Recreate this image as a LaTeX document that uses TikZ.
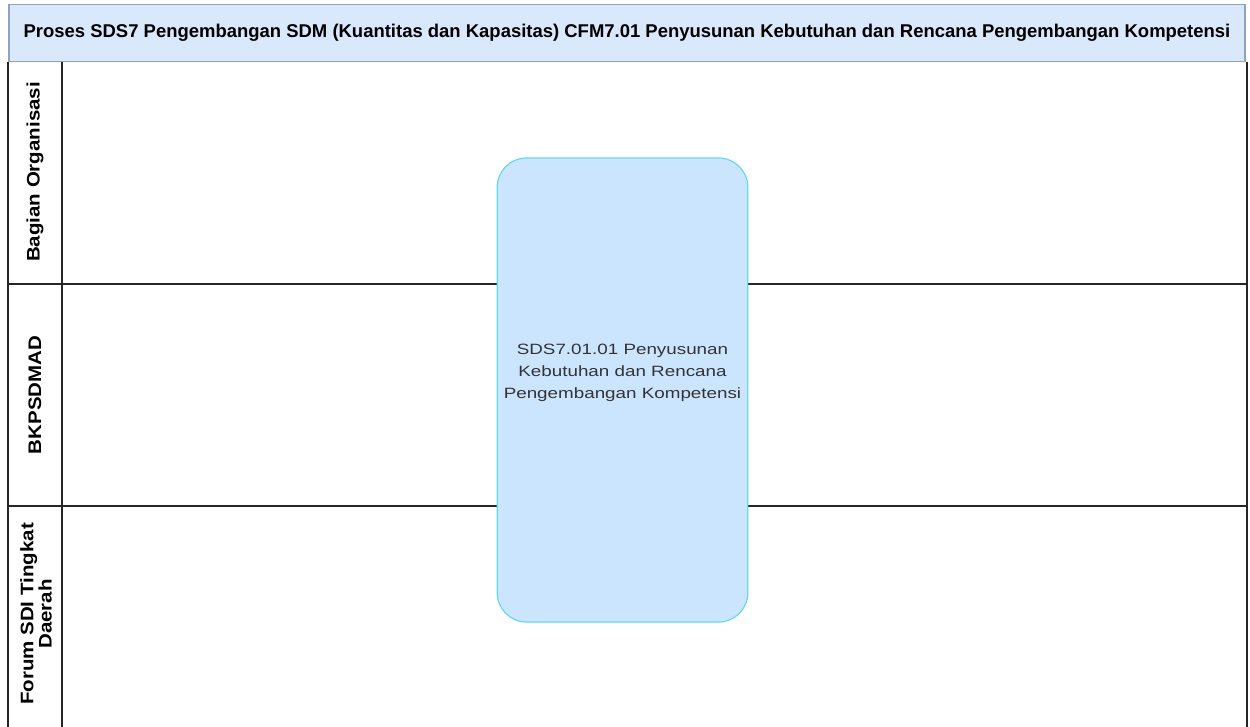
\documentclass[tikz,border=0pt]{standalone}
\usepackage{fontspec}
\setmainfont{Liberation Sans}
\newfontfamily\widesans[FakeStretch=1.26]{Liberation Sans}
\newfontfamily\laneface[FakeStretch=1.13]{Liberation Sans}
\usetikzlibrary{positioning}

\definecolor{titlefill}{HTML}{DAE8FC}
\definecolor{titleline}{HTML}{8FA3BF}
\definecolor{stepfill}{HTML}{CCE5FF}
\definecolor{stepline}{HTML}{66D9E8}
\definecolor{steptext}{HTML}{333333}

\begin{document}
\begin{tikzpicture}[x=0.75pt,y=-0.75pt,
  lanehead/.style={rotate=90, align=center, font=\laneface\bfseries\fontsize{13.6}{12.5}\selectfont},
  laneline/.style={line width=1.6pt, black!85},
  stepbox/.style={draw=stepline, fill=stepfill, line width=0.9pt, rounded corners=22pt,
    minimum width=188pt, minimum height=348pt}]
\useasboundingbox (0,0) rectangle (1250,727);

% Title
\node [draw=titleline, fill=titlefill, line width=0.8pt, minimum width=927pt, minimum height=43pt,
  font=\bfseries\fontsize{13.85}{15}\selectfont] (title) at (627,33)
  {Proses SDS7 Pengembangan SDM (Kuantitas dan Kapasitas) CFM7.01 Penyusunan Kebutuhan dan Rencana Pengembangan Kompetensi};

% Swimlanes
\draw [laneline] (8,62) -- (8,727);
\draw [laneline] (62,62) -- (62,727);
\draw [laneline] (1247,62) -- (1247,727);
\draw [laneline] (8,284) -- (1247,284);
\draw [laneline] (8,506) -- (1247,506);

% Lane names
\node [lanehead] (orgLane) at (35,172) {Bagian Organisasi};
\node [lanehead] (bkpLane) at (35,395) {BKPSDMAD};
\node [lanehead] (forumLane) at (36,614) {Forum SDI Tingkat\\Daerah};

% Step
\node [stepbox] (stepA) at (622.5,390) {};
\node [align=center, text=steptext, font=\widesans\fontsize{11.2}{16.5}\selectfont]
  (stepAtext) at ([yshift=12.5pt]stepA.center)
  {SDS7.01.01 Penyusunan\\Kebutuhan dan Rencana\\Pengembangan Kompetensi};
\end{tikzpicture}
\end{document}
